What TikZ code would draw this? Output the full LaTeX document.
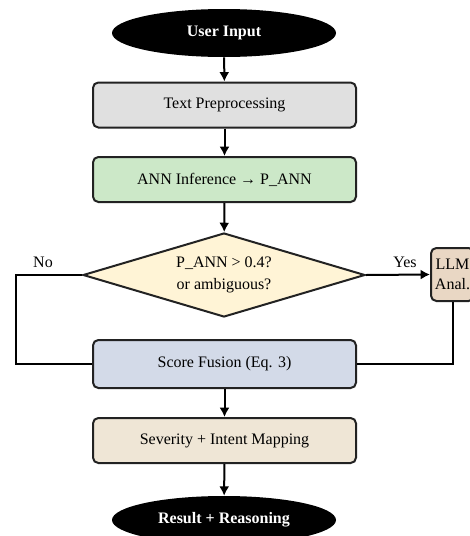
\documentclass[tikz,border=0pt]{standalone}
\usepackage{fontspec}
\setmainfont{Liberation Serif}
\usetikzlibrary{shapes.geometric}
\usetikzlibrary{arrows.meta}
\definecolor{prepgray}{HTML}{E0E0E0}
\definecolor{anngreen}{HTML}{CCE8C8}
\definecolor{checkcream}{HTML}{FFF4D6}
\definecolor{llmtan}{HTML}{E9D7C4}
\definecolor{fusionblue}{HTML}{D3DAE8}
\definecolor{mapbeige}{HTML}{EFE6D6}
\definecolor{edgedark}{HTML}{222222}
\tikzset{
  proc/.style={draw=edgedark, line width=1.5pt, rounded corners=4pt,
    minimum width=197.25pt, minimum height=33.75pt,
    font=\fontsize{12}{14.5}\selectfont},
  term/.style={ellipse, fill=black, text=white, inner sep=0pt,
    minimum width=168pt, minimum height=36pt,
    font=\fontsize{12}{14.5}\selectfont\bfseries},
  decide/.style={diamond, draw=edgedark, line width=1.5pt, fill=checkcream,
    inner sep=0pt, aspect=3.36, minimum width=211.5pt, minimum height=63pt,
    align=center, font=\fontsize{12}{16.5}\selectfont},
  side/.style={draw=edgedark, line width=1.5pt, rounded corners=4pt,
    fill=llmtan, inner sep=2pt, minimum width=32.25pt, minimum height=39.75pt,
    align=center, font=\fontsize{12}{14.5}\selectfont},
  tag/.style={font=\fontsize{12}{14.5}\selectfont},
  flow/.style={line width=1.5pt, -{Latex[length=7pt,width=7.5pt]}},
  link/.style={line width=1.5pt}
}

\begin{document}
\begin{tikzpicture}[x=0.75pt,y=-0.75pt]
\useasboundingbox (0,0) rectangle (470,536);

%%%%%%%%%%%%%%%%%%%%%%%%%%%%%%%%%%%%%%%%%%%%%%%%%%%%%%%%%%%%%% main column
\node[term] (input) at (224,33) {User Input};
\node[proc, fill=prepgray] (prep) at (224.5,105) {Text Preprocessing};
\node[proc, fill=anngreen] (ann) at (224.5,179.5) {ANN Inference → P\_ANN};
\node[decide] (check) at (224,275) {P\_ANN > 0.4?\\or ambiguous?};
\node[proc, fill=fusionblue, minimum height=36pt] (fusion) at (224.5,364) {Score Fusion (Eq. 3)};
\node[proc, fill=mapbeige] (mapping) at (224.5,440.5) {Severity + Intent Mapping};
\node[term] (result) at (224,520) {Result + Reasoning};

%%%%%%%%%%%%%%%%%%%%%%%%%%%%%%%%%%%%%%%%%%%%%%%%%%%%%%%%%%%%%% side branch
\node[side] (llm) at (452.5,274.5) {LLM\\Anal.};
\coordinate (noturn) at (16,364);
\node[tag] (no) at (43,262) {No};
\node[tag] (yes) at (405,262) {Yes};

%%%%%%%%%%%%%%%%%%%%%%%%%%%%%%%%%%%%%%%%%%%%%%%%%%%%%%%%%%%%%% arrows
\draw[flow] (input) -- (prep);
\draw[flow] (prep) -- (ann);
\draw[flow] (ann) -- (check);
\draw[flow] (check.east) -- (llm.west);
\draw[link] (check.west) -| (noturn) -- (fusion.west);
\draw[link] (llm.south) |- (fusion.east);
\draw[flow] (fusion) -- (mapping);
\draw[flow] (mapping) -- (result);

\end{tikzpicture}
\end{document}
